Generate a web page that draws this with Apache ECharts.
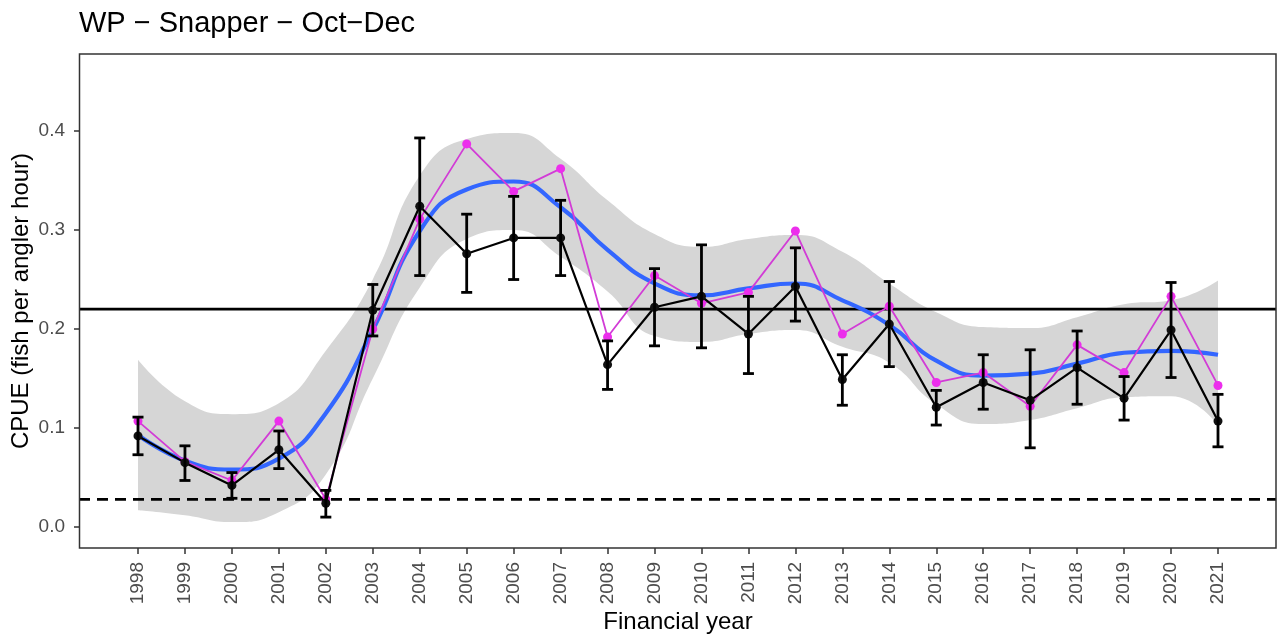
<!DOCTYPE html>
<html>
<head>
<meta charset="utf-8">
<script src="https://cdn.jsdelivr.net/npm/echarts@6/dist/echarts.min.js"></script>
<style>
html,body{margin:0;padding:0;background:#fff;}
#chart{width:1277px;height:635px;}
</style>
</head>
<body>
<div id="chart"></div>
<script>
// ---- data ----
var titleText = 'WP \u2212 Snapper \u2212 Oct\u2212Dec';
var yAxisTitle = 'CPUE (fish per angler hour)';
var xAxisTitle = 'Financial year';
var years = [1998,1999,2000,2001,2002,2003,2004,2005,2006,2007,2008,2009,2010,2011,2012,2013,2014,2015,2016,2017,2018,2019,2020,2021];
var yTicks = [0, 0.1, 0.2, 0.3, 0.4];
// black series: mean CPUE with error bars
var meanCpue = [0.092,0.065,0.042,0.078,0.024,0.219,0.324,0.276,0.292,0.292,0.164,0.222,0.233,0.195,0.243,0.149,0.205,0.121,0.146,0.128,0.161,0.130,0.199,0.107];
var errLow   = [0.073,0.047,0.029,0.059,0.010,0.193,0.254,0.237,0.250,0.254,0.139,0.183,0.181,0.155,0.208,0.123,0.162,0.103,0.119,0.080,0.124,0.108,0.151,0.081];
var errHigh  = [0.111,0.082,0.055,0.097,0.037,0.245,0.393,0.316,0.334,0.330,0.188,0.261,0.285,0.233,0.282,0.174,0.248,0.138,0.174,0.179,0.198,0.152,0.247,0.134];
// magenta series
var rawCpue  = [0.107,0.066,0.047,0.107,0.028,0.200,0.311,0.387,0.339,0.362,0.192,0.254,0.226,0.237,0.299,0.195,0.223,0.146,0.156,0.122,0.184,0.156,0.233,0.143];
// smooth fit and its confidence band
var smoothFit   = [0.093,0.067,0.058,0.069,0.115,0.199,0.299,0.341,0.349,0.323,0.280,0.246,0.234,0.241,0.246,0.229,0.204,0.168,0.153,0.155,0.165,0.176,0.178,0.174];
var smoothUpper = [0.169,0.127,0.114,0.125,0.178,0.250,0.355,0.392,0.398,0.372,0.330,0.296,0.283,0.291,0.295,0.278,0.246,0.217,0.202,0.201,0.212,0.225,0.229,0.249];
var smoothLower = [0.017,0.012,0.005,0.015,0.053,0.150,0.242,0.291,0.300,0.273,0.238,0.193,0.187,0.195,0.199,0.182,0.166,0.124,0.104,0.108,0.120,0.131,0.132,0.103];
// reference lines
var refSolid = 0.220;
var refDashed = 0.028;

var FONT = '"Liberation Sans", Arial, sans-serif';
var yMin = -0.0212, yMax = 0.4778;

function pairs(vals){ return years.map(function(y,i){ return [y, vals[i]]; }); }

var chart = echarts.init(document.getElementById('chart'), null, {renderer:'canvas'});
var option = {
  animation: false,
  backgroundColor: '#ffffff',
  textStyle: {fontFamily: FONT},
  title: {
    text: titleText, left: 79, top: 9, padding: 0,
    textStyle: {fontFamily: FONT, fontSize: 29, fontWeight: 'normal', color: '#000'}
  },
  grid: [
    {left: 79, right: 1, top: 54, bottom: 87, show: false, containLabel: false, outerBoundsMode: 'none'},
    {left: 138, right: 59, top: 54, bottom: 87, show: false, containLabel: false, outerBoundsMode: 'none'}
  ],
  xAxis: [
    {gridIndex: 0, type: 'value', min: 0, max: 1, show: false},
    {gridIndex: 1, type: 'value', min: 1998, max: 2021, interval: 1,
     axisLine: {show: false, onZero: false},
     axisTick: {show: true, length: 6, lineStyle: {color: '#333333', width: 1.5}},
     splitLine: {show: false},
     axisLabel: {rotate: 90, fontSize: 19, color: '#4d4d4d', margin: 14, fontFamily: FONT,
                 formatter: function(v){ return String(v); }},
     name: xAxisTitle, nameLocation: 'middle', nameGap: 62, nameMoveOverlap: false,
     nameTextStyle: {fontSize: 24, color: '#000', fontFamily: FONT}}
  ],
  yAxis: [
    {gridIndex: 0, type: 'value', min: yMin, max: yMax,
     axisLine: {show: false, onZero: false},
     splitLine: {show: false},
     axisTick: {show: true, length: 5, lineStyle: {color: '#333333', width: 1.5}, customValues: yTicks},
     axisLabel: {fontSize: 19, color: '#4d4d4d', margin: 14, fontFamily: FONT, customValues: yTicks,
                 formatter: function(v){ return v.toFixed(1); }},
     name: yAxisTitle, nameLocation: 'middle', nameRotate: 90, nameGap: 46, nameMoveOverlap: false,
     nameTextStyle: {fontSize: 24, color: '#000', fontFamily: FONT}},
    {gridIndex: 1, type: 'value', min: yMin, max: yMax, show: false}
  ],
  graphic: [
    {type: 'rect', z: 100, silent: true,
     shape: {x: 79.5, y: 54, width: 1196.5, height: 494},
     style: {fill: 'none', stroke: '#333333', lineWidth: 1.5}}
  ],
  series: [
    {name: 'bandUpper', type: 'line', xAxisIndex: 1, yAxisIndex: 1, smooth: true,
     symbol: 'none', silent: true, z: 1, lineStyle: {width: 0, opacity: 0},
     areaStyle: {color: '#d6d6d6', opacity: 1}, data: pairs(smoothUpper)},
    {name: 'bandLower', type: 'line', xAxisIndex: 1, yAxisIndex: 1, smooth: true,
     symbol: 'none', silent: true, z: 1, lineStyle: {width: 0, opacity: 0},
     areaStyle: {color: '#ffffff', opacity: 1, origin: 'start'}, data: pairs(smoothLower)},
    {name: 'refSolid', type: 'line', xAxisIndex: 0, yAxisIndex: 0, symbol: 'none', silent: true, z: 3,
     lineStyle: {color: '#000', width: 2.8}, data: [[0, refSolid], [1, refSolid]]},
    {name: 'refDashed', type: 'line', xAxisIndex: 0, yAxisIndex: 0, symbol: 'none', silent: true, z: 3,
     lineStyle: {color: '#000', width: 2.8, type: [11, 7]}, data: [[0, refDashed], [1, refDashed]]},
    {name: 'fit', type: 'line', xAxisIndex: 1, yAxisIndex: 1, smooth: true, symbol: 'none', z: 4,
     lineStyle: {color: '#3366ff', width: 4.2}, data: pairs(smoothFit)},
    {name: 'raw', type: 'line', xAxisIndex: 1, yAxisIndex: 1, z: 5,
     symbol: 'circle', symbolSize: 9, itemStyle: {color: '#ec2eec', borderWidth: 0},
     lineStyle: {color: '#d23cd6', width: 1.8}, data: pairs(rawCpue)},
    {name: 'mean', type: 'line', xAxisIndex: 1, yAxisIndex: 1, z: 6,
     symbol: 'circle', symbolSize: 9, itemStyle: {color: '#111', borderWidth: 0},
     lineStyle: {color: '#000', width: 2.2}, data: pairs(meanCpue)},
    {name: 'err', type: 'custom', xAxisIndex: 1, yAxisIndex: 1, z: 7, silent: true,
     data: years.map(function(y,i){ return [y, errLow[i], errHigh[i]]; }),
     renderItem: function(params, api){
       var x = api.value(0);
       var pLo = api.coord([x, api.value(1)]);
       var pHi = api.coord([x, api.value(2)]);
       var hw = 5.5;
       var st = {stroke: '#000', lineWidth: 2.8};
       return {type: 'group', children: [
         {type: 'line', shape: {x1: pLo[0], y1: pLo[1], x2: pHi[0], y2: pHi[1]}, style: st},
         {type: 'line', shape: {x1: pLo[0]-hw, y1: pLo[1], x2: pLo[0]+hw, y2: pLo[1]}, style: st},
         {type: 'line', shape: {x1: pHi[0]-hw, y1: pHi[1], x2: pHi[0]+hw, y2: pHi[1]}, style: st}
       ]};
     }}
  ]
};
chart.setOption(option);
</script>
</body>
</html>
